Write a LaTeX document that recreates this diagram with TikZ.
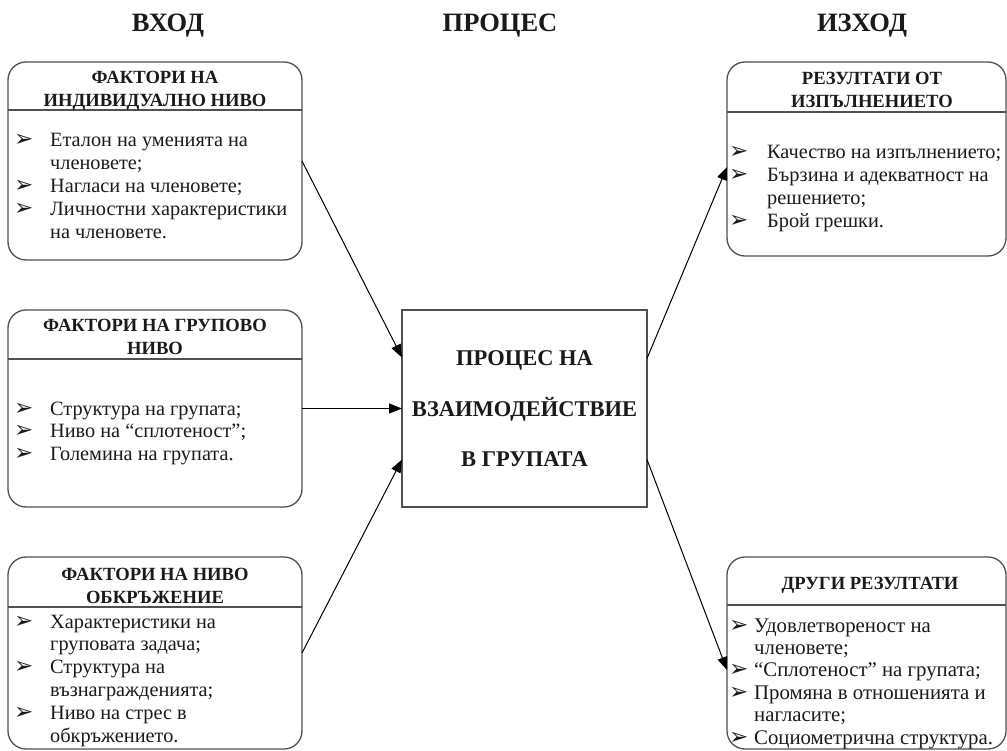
\documentclass[tikz,border=0pt]{standalone}
\usepackage{fontspec}
\setmainfont{Liberation Serif}
\newfontfamily\symfont{DejaVu Sans}
\usetikzlibrary{arrows.meta}
\definecolor{boxline}{HTML}{505050}
\definecolor{ink}{HTML}{1A1A1A}
% bullet glyph set in a box of the given width
\newcommand\bul[1]{\makebox[#1][l]{\symfont\fontsize{23}{20}\selectfont ➢}}
\begin{document}
\begin{tikzpicture}[x=1pt,y=-1pt,
  box/.style={draw=boxline, line width=1.3pt, rounded corners=18pt, anchor=north west, inner sep=0pt, outer sep=0pt},
  proc/.style={draw=boxline, line width=1.3pt, anchor=north west, inner sep=0pt, outer sep=0pt},
  divider/.style={draw=boxline, line width=1.3pt},
  head/.style={font=\bfseries\fontsize{26.5}{30}\selectfont, anchor=base, inner sep=0pt, text=ink},
  ttl/.style={font=\bfseries\fontsize{18.6}{23}\selectfont, anchor=base, inner sep=0pt, text=ink},
  items/.style={font=\fontsize{20.3}{22.8}\selectfont, anchor=base west, inner sep=0pt, text=ink},
  ctext/.style={font=\bfseries\fontsize{22.5}{50.5}\selectfont, anchor=base, inner sep=0pt, text=ink},
  arr/.style={draw=black, line width=1pt, -{Triangle[length=13pt,width=10pt]}}
]
\useasboundingbox (0,0) rectangle (1007,751);

% column headings
\node[head] (hIn)   at (168,32) {ВХОД};
\node[head] (hProc) at (500,32) {ПРОЦЕС};
\node[head] (hOut)  at (862,32) {ИЗХОД};

% input boxes
\node[box, minimum width=294pt, minimum height=198pt] (L1) at (8,62) {};
\node[box, minimum width=294pt, minimum height=197pt] (L2) at (8,310) {};
\node[box, minimum width=294pt, minimum height=192pt] (L3) at (8,557) {};
\draw[divider] ([yshift=-48pt]L1.north west) -- ([yshift=-48pt]L1.north east);
\draw[divider] ([yshift=-49pt]L2.north west) -- ([yshift=-49pt]L2.north east);
\draw[divider] ([yshift=-50pt]L3.north west) -- ([yshift=-50pt]L3.north east);

\node[ttl] (L1t) at (155,84) {\begin{tabular}[t]{@{}c@{}}ФАКТОРИ НА\\ИНДИВИДУАЛНО НИВО\end{tabular}};
\node[ttl] (L2t) at (155,332) {\begin{tabular}[t]{@{}c@{}}ФАКТОРИ НА ГРУПОВО\\НИВО\end{tabular}};
\node[ttl] (L3t) at (155,580) {\begin{tabular}[t]{@{}c@{}}ФАКТОРИ НА НИВО\\ОБКРЪЖЕНИЕ\end{tabular}};

\node[items] (L1i) at (14,147) {\begin{tabular}[t]{@{}l@{}l@{}}
\bul{36pt} & Еталон на уменията на\\
           & членовете;\\
\bul{36pt} & Нагласи на членовете;\\
\bul{36pt} & Личностни характеристики\\
           & на членовете.
\end{tabular}};
\node[items] (L2i) at (14,415) {\begin{tabular}[t]{@{}l@{}l@{}}
\bul{36pt} & Структура на групата;\\
\bul{36pt} & Ниво на “сплотеност”;\\
\bul{36pt} & Големина на групата.
\end{tabular}};
\node[items] (L3i) at (14,628) {\begin{tabular}[t]{@{}l@{}l@{}}
\bul{36pt} & Характеристики на\\
           & груповата задача;\\
\bul{36pt} & Структура на\\
           & възнагражденията;\\
\bul{36pt} & Ниво на стрес в\\
           & обкръжението.
\end{tabular}};

% process box
\node[proc, minimum width=245pt, minimum height=197pt] (C) at (402,310) {};
\node[ctext] (Ct) at (524.5,366) {\begin{tabular}[t]{@{}c@{}}ПРОЦЕС НА\\ВЗАИМОДЕЙСТВИЕ\\В ГРУПАТА\end{tabular}};

% output boxes
\node[box, minimum width=279pt, minimum height=194pt] (R1) at (727,62) {};
\node[box, minimum width=279pt, minimum height=192pt] (R2) at (727,557) {};
\draw[divider] ([yshift=-50pt]R1.north west) -- ([yshift=-50pt]R1.north east);
\draw[divider] ([yshift=-48pt]R2.north west) -- ([yshift=-48pt]R2.north east);

\node[ttl] (R1t) at (872,85) {\begin{tabular}[t]{@{}c@{}}РЕЗУЛТАТИ ОТ\\ИЗПЪЛНЕНИЕТО\end{tabular}};
\node[ttl] (R2t) at (870,589) {ДРУГИ РЕЗУЛТАТИ};

\node[items] (R1i) at (729,159) {\begin{tabular}[t]{@{}l@{}l@{}}
\bul{38pt} & Качество на изпълнението;\\
\bul{38pt} & Бързина и адекватност на\\
           & решението;\\
\bul{38pt} & Брой грешки.
\end{tabular}};
\node[items, font=\fontsize{20.8}{22.4}\selectfont] (R2i) at (729,632) {\begin{tabular}[t]{@{}l@{}l@{}}
\bul{25pt} & Удовлетвореност на\\
           & членовете;\\
\bul{25pt} & “Сплотеност” на групата;\\
\bul{25pt} & Промяна в отношенията и\\
           & нагласите;\\
\bul{25pt} & Социометрична структура.
\end{tabular}};

% connectors
\draw[arr] (L1.east) -- ([yshift=51pt]C.west);
\draw[arr] (L2.east) -- (C.west);
\draw[arr] (L3.east) -- ([yshift=-51pt]C.west);
\draw[arr] ([yshift=50pt]C.east) -- ([yshift=-8pt]R1.west);
\draw[arr] ([yshift=-51pt]C.east) -- ([yshift=-17pt]R2.west);
\end{tikzpicture}
\end{document}
